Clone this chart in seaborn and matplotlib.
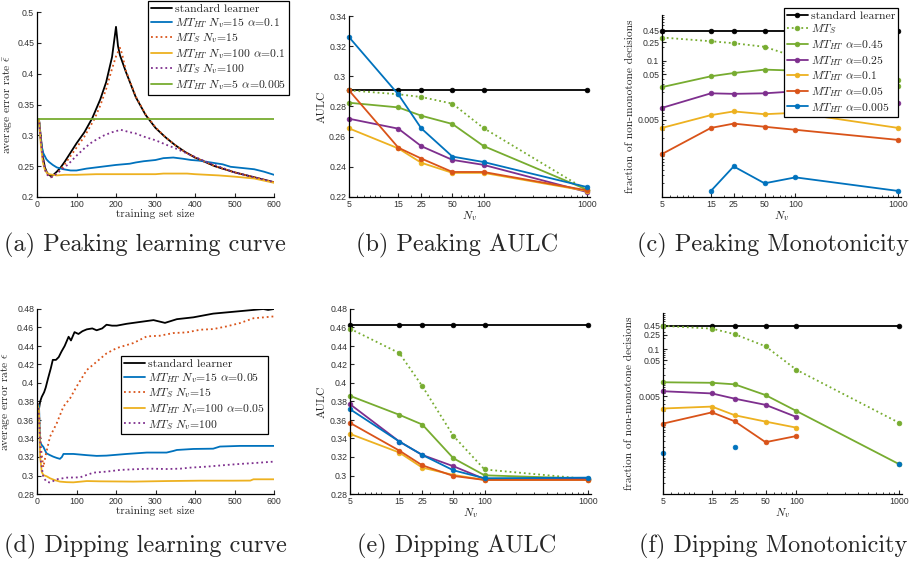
import matplotlib
matplotlib.use('Agg')
import matplotlib.pyplot as plt
import matplotlib.ticker as mticker
import numpy as np
import seaborn as sns

# -----------------------------
# colours (matlab default order)
# -----------------------------
BLUE = '#0072BD'
RED = '#D95319'
YEL = '#EDB120'
PUR = '#7E2F8E'
GRN = '#77AC30'
BLK = '#000000'

# -----------------------------
# (a) peaking learning curves
# -----------------------------
pk_std_x = [1, 5, 10, 15, 20, 25, 30, 35, 40, 50, 60, 70, 80, 90, 100, 120, 140, 160, 175, 190, 200,
            205, 210, 225, 250, 275, 300, 325, 350, 375, 400, 450, 500, 550, 600]
pk_std_y = [0.326, 0.326, 0.295, 0.265, 0.248, 0.240, 0.236, 0.234, 0.235, 0.241, 0.248, 0.257, 0.267,
            0.277, 0.287, 0.305, 0.328, 0.358, 0.386, 0.427, 0.476, 0.445, 0.430, 0.403, 0.362, 0.333,
            0.312, 0.297, 0.284, 0.273, 0.264, 0.250, 0.240, 0.232, 0.224]

pk_ht15_x = [1, 5, 8, 12, 16, 20, 24, 30, 40, 50, 67, 85, 100, 125, 150, 175, 200, 235, 250, 270, 300,
             320, 345, 370, 390, 410, 440, 470, 490, 520, 550, 575, 600]
pk_ht15_y = [0.326, 0.326, 0.300, 0.282, 0.271, 0.266, 0.261, 0.257, 0.252, 0.248, 0.245, 0.243, 0.243,
             0.246, 0.248, 0.250, 0.252, 0.254, 0.256, 0.258, 0.260, 0.263, 0.264, 0.262, 0.260, 0.259,
             0.256, 0.253, 0.249, 0.247, 0.245, 0.241, 0.236]

pk_s15_x = [1, 5, 10, 15, 20, 25, 30, 35, 40, 50, 60, 70, 80, 90, 100, 120, 145, 160, 175, 190, 200,
            210, 215, 225, 250, 275, 300, 325, 350, 375, 400, 450, 500, 550, 600]
pk_s15_y = [0.326, 0.326, 0.292, 0.262, 0.245, 0.237, 0.234, 0.232, 0.233, 0.238, 0.245, 0.253, 0.262,
            0.271, 0.280, 0.298, 0.326, 0.348, 0.375, 0.408, 0.428, 0.442, 0.433, 0.405, 0.363, 0.334,
            0.313, 0.297, 0.284, 0.273, 0.264, 0.250, 0.240, 0.232, 0.224]

pk_ht100_x = [1, 5, 10, 15, 20, 25, 30, 40, 50, 70, 100, 150, 200, 250, 300, 320, 350, 380, 400, 430,
              460, 500, 550, 600]
pk_ht100_y = [0.326, 0.326, 0.282, 0.256, 0.244, 0.239, 0.237, 0.236, 0.235, 0.236, 0.236, 0.237, 0.237,
              0.237, 0.237, 0.238, 0.238, 0.238, 0.237, 0.236, 0.235, 0.233, 0.230, 0.223]

pk_s100_x = [1, 5, 10, 15, 20, 25, 30, 35, 40, 50, 60, 70, 85, 100, 120, 135, 150, 170, 190, 212, 235,
             250, 270, 300, 330, 350, 375, 400, 425, 450, 500, 550, 600]
pk_s100_y = [0.326, 0.326, 0.290, 0.262, 0.245, 0.237, 0.234, 0.232, 0.233, 0.238, 0.243, 0.248, 0.257,
             0.267, 0.279, 0.287, 0.293, 0.300, 0.305, 0.309, 0.305, 0.303, 0.298, 0.292, 0.284, 0.279,
             0.272, 0.265, 0.258, 0.252, 0.240, 0.232, 0.224]

pk_ht5_x = [3, 600]
pk_ht5_y = [0.326, 0.326]

# -----------------------------
# (d) dipping learning curves
# -----------------------------
dp_std_x = [2, 5, 8, 12, 18, 22, 28, 35, 40, 48, 55, 62, 70, 80, 86, 95, 105, 115, 126, 140, 151, 165,
            176, 190, 202, 227, 261, 295, 324, 354, 396, 446, 497, 548, 573, 585, 600]
dp_std_y = [0.377, 0.372, 0.380, 0.385, 0.390, 0.395, 0.405, 0.416, 0.425, 0.425, 0.428, 0.434, 0.440,
            0.450, 0.446, 0.455, 0.453, 0.456, 0.458, 0.459, 0.457, 0.459, 0.463, 0.462, 0.462, 0.464,
            0.466, 0.468, 0.465, 0.469, 0.471, 0.475, 0.477, 0.479, 0.480, 0.479, 0.480]

dp_ht15_x = [1, 5, 8, 12, 16, 24, 33, 41, 50, 58, 63, 67, 92, 126, 151, 176, 227, 278, 328, 345, 354,
             396, 446, 463, 514, 600]
dp_ht15_y = [0.378, 0.376, 0.336, 0.333, 0.331, 0.324, 0.322, 0.3204, 0.319, 0.318, 0.320, 0.3233,
             0.3233, 0.322, 0.3212, 0.3215, 0.3233, 0.3248, 0.3248, 0.3265, 0.3276, 0.3287, 0.329,
             0.3313, 0.332, 0.332]

dp_s15_x = [1, 5, 10, 16, 22, 33, 50, 67, 84, 100, 126, 151, 176, 202, 244, 278, 311, 345, 379, 413,
            446, 480, 514, 548, 575, 600]
dp_s15_y = [0.378, 0.370, 0.330, 0.309, 0.322, 0.342, 0.3565, 0.3746, 0.3836, 0.396, 0.414, 0.423,
            0.432, 0.4378, 0.4432, 0.4504, 0.4511, 0.454, 0.4547, 0.4576, 0.4583, 0.4612, 0.4648,
            0.470, 0.471, 0.472]

dp_ht100_x = [1, 5, 8, 12, 16, 25, 33, 45, 58, 75, 92, 126, 160, 244, 328, 413, 497, 540, 548, 600]
dp_ht100_y = [0.378, 0.370, 0.320, 0.304, 0.3006, 0.299, 0.297, 0.295, 0.2934, 0.2928, 0.2926, 0.294,
              0.2937, 0.2934, 0.294, 0.2944, 0.2944, 0.2945, 0.2959, 0.2959]

dp_s100_x = [1, 5, 10, 16, 24, 33, 50, 75, 109, 126, 143, 176, 210, 244, 286, 328, 363, 388, 430, 480,
             514, 548, 600]
dp_s100_y = [0.378, 0.365, 0.315, 0.298, 0.2934, 0.2923, 0.2959, 0.2977, 0.298, 0.3006, 0.3031, 0.3042,
             0.306, 0.3067, 0.3074, 0.307, 0.3074, 0.3085, 0.3096, 0.3114, 0.3125, 0.3134, 0.315]

# -----------------------------
# AULC / monotonicity vs N_v
# -----------------------------
nv = [5, 15, 25, 50, 100, 1000]
nan = np.nan

# (b) peaking AULC
b_std = [0.2907, 0.2907, 0.2907, 0.2907, 0.2907, 0.2907]
b_mts = [0.2907, 0.2881, 0.2863, 0.2819, 0.2657, 0.2245]
b_a045 = [0.2825, 0.2794, 0.2739, 0.2684, 0.2538, 0.2249]
b_a025 = [0.2719, 0.2653, 0.2537, 0.2446, 0.2413, 0.2233]
b_a01 = [0.2655, 0.2522, 0.2427, 0.2360, 0.2360, 0.2240]
b_a005 = [0.2907, 0.2527, 0.2455, 0.2366, 0.2366, 0.2244]
b_a0005 = [0.3260, 0.2880, 0.2655, 0.2468, 0.2432, 0.2266]

# (c) peaking monotonicity
c_std = [0.45, 0.45, 0.45, 0.45, 0.45, 0.45]
c_mts = [0.32, 0.265, 0.24, 0.20, 0.12, 0.037]
c_a045 = [0.026, 0.045, 0.053, 0.063, 0.060, 0.028]
c_a025 = [0.0091, 0.019, 0.0185, 0.019, 0.021, 0.0118]
c_a01 = [0.0033, 0.0063, 0.0076, 0.0066, 0.0071, 0.0033]
c_a005 = [0.00088, 0.0033, 0.0041, 0.0035, 0.0030, 0.0018]
c_a0005 = [nan, 0.000136, 0.00047, 0.00020, 0.00027, 0.000136]

# (e) dipping AULC
e_std = [0.4623, 0.4623, 0.4623, 0.4623, 0.4623, 0.4623]
e_mts = [0.4587, 0.4323, 0.3966, 0.3428, 0.3065, 0.2962]
e_a045 = [0.3861, 0.3656, 0.3551, 0.3186, 0.3002, 0.2966]
e_a025 = [0.3771, 0.3367, 0.3222, 0.3100, 0.2962, 0.2962]
e_a01 = [0.3450, 0.3248, 0.3085, 0.3006, 0.2952, 0.2952]
e_a005 = [0.3569, 0.3269, 0.3110, 0.2995, 0.2952, 0.2952]
e_a0005 = [0.3717, 0.3367, 0.3222, 0.3056, 0.2970, 0.2977]

# (f) dipping monotonicity
f_std = [0.45, 0.45, 0.45, 0.45, 0.45, 0.45]
f_mts = [0.44, 0.37, 0.26, 0.12, 0.027, 0.00093]
f_a045 = [0.0122, 0.0118, 0.0107, 0.0054, 0.00196, 0.000067]
f_a025 = [0.0069, 0.0060, 0.0043, 0.0029, 0.00134, nan]
f_a01 = [0.0023, 0.0026, 0.0015, 0.0010, 0.00068, nan]
f_a005 = [0.00088, 0.0018, 0.00102, 0.00027, 0.0004, nan]
f_a0005 = [0.000133, nan, 0.0002, nan, nan, 0.000067]

# -----------------------------
# style
# -----------------------------
sns.set_theme(style='ticks')
plt.rcParams['font.family'] = ['Liberation Sans', 'DejaVu Sans']
plt.rcParams['mathtext.fontset'] = 'cm'
plt.rcParams['axes.linewidth'] = 0.9
plt.rcParams['axes.edgecolor'] = 'black'

SERIF = 'cmr10'
LAB = dict(family=SERIF, size=8.2)
TICK_SIZE = 6.3
XLAB_Y = -0.066

fig = plt.figure(figsize=(9.17, 5.63), dpi=100)
W, H = 917.0, 563.0


def add_ax(left, top, right, bottom):
    return fig.add_axes([left / W, 1 - bottom / H, (right - left) / W, (bottom - top) / H])


def style_ax(ax):
    sns.despine(ax=ax)
    ax.tick_params(which='major', direction='in', length=3, width=0.8,
                   labelsize=TICK_SIZE, labelcolor='#333333', pad=2)
    ax.tick_params(which='minor', direction='in', length=1.6, width=0.6)
    ax.set_facecolor('white')


def fmt_g(v, p):
    return f'{v:g}'


def curve(ax, x, y, color, label, ls='-'):
    sns.lineplot(x=x, y=y, ax=ax, color=color, linestyle=ls, linewidth=1.3,
                 label=label, sort=False, estimator=None)


def nv_line(ax, y, color, label, ls='-'):
    xs = np.array(nv, dtype=float)
    ys = np.array(y, dtype=float)
    ok = ~np.isnan(ys)
    # no connecting line when no two neighbours are both present
    pair = ok[:-1] & ok[1:]
    lw = 1.3 if pair.any() else 0
    sns.lineplot(x=xs[ok], y=ys[ok], ax=ax, color=color, linestyle=ls, linewidth=lw,
                 marker='o', markersize=3.4, markeredgecolor=color, markeredgewidth=0.5,
                 label=label, sort=False, estimator=None, clip_on=False)


def nv_axes(ax):
    ax.set_xscale('log')
    ax.set_xlim(5, 1070)
    ax.xaxis.set_major_locator(mticker.FixedLocator(nv))
    ax.xaxis.set_major_formatter(mticker.FuncFormatter(fmt_g))
    ax.xaxis.set_minor_locator(mticker.LogLocator(base=10, subs=np.arange(1, 10)))
    ax.xaxis.set_minor_formatter(mticker.NullFormatter())
    ax.set_xlabel(r'$N_v$', **LAB)
    ax.xaxis.set_label_coords(0.5, XLAB_Y)


def legend(ax, anchor, loc='upper left'):
    h, l = ax.get_legend_handles_labels()
    leg = ax.legend(h, l, loc=loc, bbox_to_anchor=anchor, frameon=True, fancybox=False,
                    edgecolor='black', framealpha=1, prop=dict(family=SERIF, size=8.4),
                    handlelength=1.8, handletextpad=0.25, labelspacing=0.14,
                    borderpad=0.25, borderaxespad=0)
    leg.get_frame().set_linewidth(0.9)
    leg.set_zorder(10)


# -----------------------------
# (a) Peaking learning curve
# -----------------------------
ax = add_ax(37, 12, 274, 197)
curve(ax, pk_std_x, pk_std_y, BLK, 'standard learner')
curve(ax, pk_ht15_x, pk_ht15_y, BLUE, r'$MT_{HT}\ N_v$=15 $\alpha$=0.1')
curve(ax, pk_s15_x, pk_s15_y, RED, r'$MT_S\ N_v$=15', ':')
curve(ax, pk_ht100_x, pk_ht100_y, YEL, r'$MT_{HT}\ N_v$=100 $\alpha$=0.1')
curve(ax, pk_s100_x, pk_s100_y, PUR, r'$MT_S\ N_v$=100', ':')
curve(ax, pk_ht5_x, pk_ht5_y, GRN, r'$MT_{HT}\ N_v$=5 $\alpha$=0.005')
ax.set_xlim(0, 600)
ax.set_ylim(0.2, 0.5)
ax.set_xticks([0, 100, 200, 300, 400, 500, 600])
ax.set_yticks([0.2, 0.25, 0.3, 0.35, 0.4, 0.45, 0.5])
ax.yaxis.set_major_formatter(mticker.FuncFormatter(fmt_g))
style_ax(ax)
ax.set_xlabel('training set size', **LAB)
ax.set_ylabel(r'average error rate $\bar{\epsilon}$', **LAB)
ax.xaxis.set_label_coords(0.5, XLAB_Y)
ax.yaxis.set_label_coords(-0.093, 0.5)
legend(ax, (0.468, 1.06))

# -----------------------------
# (b) Peaking AULC
# -----------------------------
ax = add_ax(349, 16, 590, 197)
nv_line(ax, b_std, BLK, 'standard learner')
nv_line(ax, b_mts, GRN, r'$MT_S$', ':')
nv_line(ax, b_a045, GRN, r'$MT_{HT}$ $\alpha$=0.45')
nv_line(ax, b_a025, PUR, r'$MT_{HT}$ $\alpha$=0.25')
nv_line(ax, b_a01, YEL, r'$MT_{HT}$ $\alpha$=0.1')
nv_line(ax, b_a005, RED, r'$MT_{HT}$ $\alpha$=0.05')
nv_line(ax, b_a0005, BLUE, r'$MT_{HT}$ $\alpha$=0.005')
ax.get_legend().remove()
nv_axes(ax)
ax.set_ylim(0.22, 0.34)
ax.set_yticks([0.22, 0.24, 0.26, 0.28, 0.3, 0.32, 0.34])
ax.yaxis.set_major_formatter(mticker.FuncFormatter(fmt_g))
style_ax(ax)
ax.set_ylabel('AULC', **LAB)
ax.yaxis.set_label_coords(-0.091, 0.5)

# -----------------------------
# (c) Peaking Monotonicity
# -----------------------------
ax = add_ax(662, 15, 901, 197)
nv_line(ax, c_std, BLK, 'standard learner')
nv_line(ax, c_mts, GRN, r'$MT_S$', ':')
nv_line(ax, c_a045, GRN, r'$MT_{HT}$ $\alpha$=0.45')
nv_line(ax, c_a025, PUR, r'$MT_{HT}$ $\alpha$=0.25')
nv_line(ax, c_a01, YEL, r'$MT_{HT}$ $\alpha$=0.1')
nv_line(ax, c_a005, RED, r'$MT_{HT}$ $\alpha$=0.05')
nv_line(ax, c_a0005, BLUE, r'$MT_{HT}$ $\alpha$=0.005')
nv_axes(ax)
ax.set_yscale('log')
ax.set_ylim(1e-4, 1)
ax.yaxis.set_major_locator(mticker.FixedLocator([0.005, 0.05, 0.1, 0.25, 0.45]))
ax.yaxis.set_major_formatter(mticker.FuncFormatter(fmt_g))
ax.yaxis.set_minor_locator(mticker.LogLocator(base=10, subs=np.arange(1, 10)))
ax.yaxis.set_minor_formatter(mticker.NullFormatter())
style_ax(ax)
ax.set_ylabel('fraction of non-monotone decisions', **LAB)
ax.yaxis.set_label_coords(-0.113, 0.5)
legend(ax, (0.51, 1.04))

# -----------------------------
# (d) Dipping learning curve
# -----------------------------
ax = add_ax(37, 309, 274, 494)
curve(ax, dp_std_x, dp_std_y, BLK, 'standard learner')
curve(ax, dp_ht15_x, dp_ht15_y, BLUE, r'$MT_{HT}\ N_v$=15 $\alpha$=0.05')
curve(ax, dp_s15_x, dp_s15_y, RED, r'$MT_S\ N_v$=15', ':')
curve(ax, dp_ht100_x, dp_ht100_y, YEL, r'$MT_{HT}\ N_v$=100 $\alpha$=0.05')
curve(ax, dp_s100_x, dp_s100_y, PUR, r'$MT_S\ N_v$=100', ':')
ax.set_xlim(0, 600)
ax.set_ylim(0.28, 0.48)
ax.set_xticks([0, 100, 200, 300, 400, 500, 600])
ax.set_yticks([0.28, 0.3, 0.32, 0.34, 0.36, 0.38, 0.4, 0.42, 0.44, 0.46, 0.48])
ax.yaxis.set_major_formatter(mticker.FuncFormatter(fmt_g))
style_ax(ax)
ax.set_xlabel('training set size', **LAB)
ax.set_ylabel(r'average error rate $\bar{\epsilon}$', **LAB)
ax.xaxis.set_label_coords(0.5, XLAB_Y)
ax.yaxis.set_label_coords(-0.101, 0.5)
legend(ax, (0.354, 0.746))

# -----------------------------
# (e) Dipping AULC
# -----------------------------
ax = add_ax(350, 309, 591, 494)
nv_line(ax, e_std, BLK, 'standard learner')
nv_line(ax, e_mts, GRN, r'$MT_S$', ':')
nv_line(ax, e_a045, GRN, r'$MT_{HT}$ $\alpha$=0.45')
nv_line(ax, e_a025, PUR, r'$MT_{HT}$ $\alpha$=0.25')
nv_line(ax, e_a01, YEL, r'$MT_{HT}$ $\alpha$=0.1')
nv_line(ax, e_a005, RED, r'$MT_{HT}$ $\alpha$=0.05')
nv_line(ax, e_a0005, BLUE, r'$MT_{HT}$ $\alpha$=0.005')
ax.get_legend().remove()
nv_axes(ax)
ax.set_ylim(0.28, 0.48)
ax.set_yticks([0.28, 0.3, 0.32, 0.34, 0.36, 0.38, 0.4, 0.42, 0.44, 0.46, 0.48])
ax.yaxis.set_major_formatter(mticker.FuncFormatter(fmt_g))
style_ax(ax)
ax.set_ylabel('AULC', **LAB)
ax.yaxis.set_label_coords(-0.095, 0.5)

# -----------------------------
# (f) Dipping Monotonicity
# -----------------------------
ax = add_ax(663, 313, 902, 494)
nv_line(ax, f_std, BLK, 'standard learner')
nv_line(ax, f_mts, GRN, r'$MT_S$', ':')
nv_line(ax, f_a045, GRN, r'$MT_{HT}$ $\alpha$=0.45')
nv_line(ax, f_a025, PUR, r'$MT_{HT}$ $\alpha$=0.25')
nv_line(ax, f_a01, YEL, r'$MT_{HT}$ $\alpha$=0.1')
nv_line(ax, f_a005, RED, r'$MT_{HT}$ $\alpha$=0.05')
nv_line(ax, f_a0005, BLUE, r'$MT_{HT}$ $\alpha$=0.005')
ax.get_legend().remove()
nv_axes(ax)
ax.set_yscale('log')
ax.set_ylim(1e-5, 1)
ax.yaxis.set_major_locator(mticker.FixedLocator([0.005, 0.05, 0.1, 0.25, 0.45]))
ax.yaxis.set_major_formatter(mticker.FuncFormatter(fmt_g))
ax.yaxis.set_minor_locator(mticker.LogLocator(base=10, subs=np.arange(1, 10)))
ax.yaxis.set_minor_formatter(mticker.NullFormatter())
style_ax(ax)
ax.set_ylabel('fraction of non-monotone decisions', **LAB)
ax.yaxis.set_label_coords(-0.121, 0.5)

# -----------------------------
# captions
# -----------------------------
CAP = dict(family=SERIF, size=17.5, ha='center', va='center')
fig.text(145 / W, 1 - 245 / H, '(a) Peaking learning curve', **CAP)
fig.text(457 / W, 1 - 245 / H, '(b) Peaking AULC', **CAP)
fig.text(773 / W, 1 - 245 / H, '(c) Peaking Monotonicity', **CAP)
fig.text(145 / W, 1 - 546 / H, '(d) Dipping learning curve', **CAP)
fig.text(457 / W, 1 - 546 / H, '(e) Dipping AULC', **CAP)
fig.text(773 / W, 1 - 546 / H, '(f) Dipping Monotonicity', **CAP)

fig.savefig('out.png', dpi=100, facecolor='white')
